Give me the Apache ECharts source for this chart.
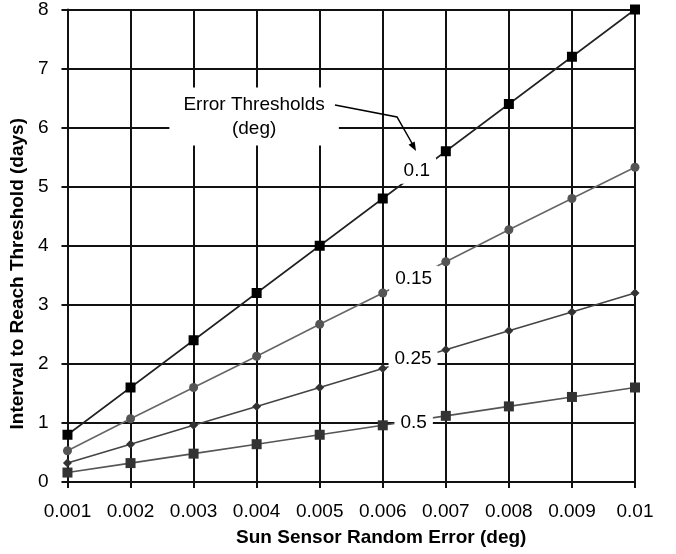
<!DOCTYPE html>
<html>
<head>
<meta charset="utf-8">
<title>Sun sensor error</title>
<script src="https://cdn.jsdelivr.net/npm/echarts@6/dist/echarts.min.js"></script>
</head>
<body style="margin:0">
<div id="main" style="width:676px;height:554px"></div>
<script>
var sensorError = [0.001, 0.002, 0.003, 0.004, 0.005, 0.006, 0.007, 0.008, 0.009, 0.01];
var days_01  = [0.8, 1.6, 2.4, 3.2, 4.0, 4.8, 5.6, 6.4, 7.2, 8.0];
var days_015 = [0.53, 1.07, 1.6, 2.13, 2.67, 3.2, 3.73, 4.27, 4.8, 5.33];
var days_025 = [0.32, 0.64, 0.96, 1.28, 1.6, 1.92, 2.24, 2.56, 2.88, 3.2];
var days_05  = [0.16, 0.32, 0.48, 0.64, 0.8, 0.96, 1.12, 1.28, 1.44, 1.6];
var thresholdLabels = [
  [0.00654, 5.27, '0.1'],
  [0.00649, 3.44, '0.15'],
  [0.00648, 2.09, '0.25'],
  [0.00649, 1.01, '0.5']
];
var noteLabel = [[0.00396, 6.19, 'Error Thresholds\n(deg)']];

var font = "'Liberation Sans', Arial, sans-serif";
var chart = echarts.init(document.getElementById('main'));

function pair(ys) {
  return sensorError.map(function (x, i) { return [x, ys[i]]; });
}
function lineSeries(name, ys, symbol, size, color, lineColor) {
  return {
    name: name, type: 'line', data: pair(ys),
    symbol: symbol, symbolSize: size,
    itemStyle: { color: color },
    lineStyle: { color: lineColor, width: 1.6 },
    z: 3
  };
}
function textSeries(data, lh, pad) {
  return {
    type: 'scatter', data: data, symbolSize: 0, z: 10,
    itemStyle: { opacity: 1 },
    label: {
      show: true, position: 'inside', fontFamily: font, fontSize: 19, color: '#000',
      lineHeight: lh, align: 'center', opacity: 1,
      backgroundColor: '#fff', padding: pad,
      formatter: function (p) { return p.value[2]; }
    }
  };
}

var option = {
  animation: false,
  grid: { left: 66, right: 41, top: 8, bottom: 72 },
  xAxis: {
    type: 'value', min: 0.001, max: 0.01, interval: 0.001,
    name: 'Sun Sensor Random Error (deg)', nameLocation: 'middle', nameGap: 46,
    nameTextStyle: { fontFamily: font, fontSize: 19, fontWeight: 'bold', color: '#000', padding: [0, 0, 0, 60] },
    axisLine: { lineStyle: { color: '#111', width: 2 } },
    axisTick: { show: true, length: 6, lineStyle: { color: '#111', width: 2 } },
    axisLabel: { fontFamily: font, fontSize: 19, color: '#000', margin: 20,
      formatter: function (v) { return String(+v.toFixed(3)); } },
    splitLine: { show: true, lineStyle: { color: '#111', width: 2 } }
  },
  yAxis: {
    type: 'value', min: 0, max: 8, interval: 1,
    name: 'Interval to Reach Threshold (days)', nameLocation: 'middle', nameGap: 34,
    nameTextStyle: { fontFamily: font, fontSize: 19, fontWeight: 'bold', color: '#000', padding: [0, 56, 0, 0] },
    axisLine: { show: true, lineStyle: { color: '#111', width: 2 } },
    axisTick: { show: true, length: 6, lineStyle: { color: '#111', width: 2 } },
    axisLabel: { fontFamily: font, fontSize: 19, color: '#000', margin: 19 },
    splitLine: { show: true, lineStyle: { color: '#111', width: 2 } }
  },
  series: [
    lineSeries('0.1', days_01, 'rect', 10, '#000', '#222'),
    lineSeries('0.15', days_015, 'circle', 9, '#555', '#666'),
    lineSeries('0.25', days_025, 'diamond', 9, '#333', '#444'),
    lineSeries('0.5', days_05, 'rect', 10, '#333', '#555'),
    textSeries(thresholdLabels, 20, [3, 6]),
    textSeries(noteLabel, 24, [5, 14])
  ],
  graphic: [
    {
      type: 'polyline', z: 20,
      shape: { points: [[335, 105], [397, 117], [413, 145]] },
      style: { stroke: '#000', lineWidth: 1.5, fill: null }
    },
    {
      type: 'polygon', z: 20,
      shape: { points: [[416, 151], [408.5, 144.8], [414.7, 141.4]] },
      style: { fill: '#000' }
    }
  ]
};
chart.setOption(option);
</script>
</body>
</html>
